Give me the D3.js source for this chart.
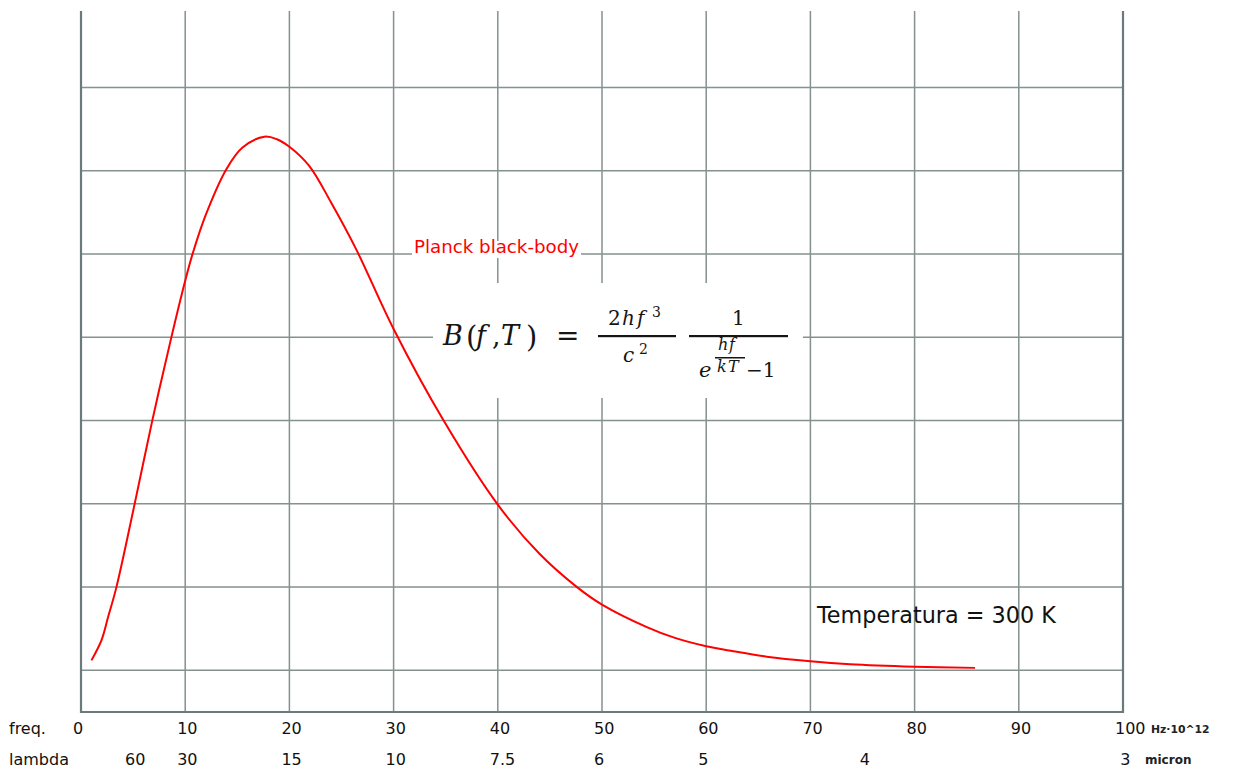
<!DOCTYPE html>
<html><head><meta charset="utf-8">
<script src="https://cdn.jsdelivr.net/npm/d3@7"></script>
<style>body{margin:0;background:#fff}svg{display:block}</style>
</head><body><svg id="c" width="1236" height="769"></svg>
<script>
// ---- data ----
const freqTicks = [0, 10, 20, 30, 40, 50, 60, 70, 80, 90, 100];
const freqTickLabels = ["0", "10", "20", "30", "40", "50", "60", "70", "80", "90", "100"];
const lambdaTickFreq = [5, 10, 20, 30, 40, 50, 60, 75.5, 100.5];
const lambdaTickLabels = ["60", "30", "15", "10", "7.5", "6", "5", "4", "3"];
const yGridValues = [0, 1, 2, 3, 4, 5, 6, 7];
const curveFreq = [1.0, 1.96, 2.6, 3.4, 5.15, 6.84, 8.67, 10.0, 10.75, 12.0, 13.95, 15.5, 17.6, 18.8, 20.0, 21.9, 24.0, 26.4, 30.0, 34.8, 40.0, 44.0, 47.6, 50.0, 54.3, 57.0, 60.0, 62.6, 65.8, 70.0, 73.8, 80.0, 85.8];
const curveValue = [0.12, 0.36, 0.64, 1.0, 2.0, 3.0, 4.0, 4.68, 5.02, 5.48, 6.02, 6.28, 6.41, 6.38, 6.29, 6.06, 5.62, 5.06, 4.1, 3.0, 1.99, 1.40, 1.0, 0.79, 0.52, 0.39, 0.29, 0.23, 0.165, 0.11, 0.075, 0.045, 0.03];
const curveTitle = "Planck black-body";
const tempLabel = "Temperatura = 300 K";

// ---- scales ----
const svg = d3.select("#c");
const x = d3.scaleLinear().domain([0, 100]).range([81, 1123]);
const y = d3.scaleLinear().domain([-0.5, 7.92]).range([712, 11]);
const gridColor = "#84918f", axisColor = "#6b7b7b";

// grid
svg.append("g").selectAll("line").data(freqTicks.slice(1, -1)).join("line")
  .attr("x1", d => x(d)).attr("x2", d => x(d)).attr("y1", y.range()[1]).attr("y2", y.range()[0])
  .attr("stroke", gridColor).attr("stroke-width", 1.5);
svg.append("g").selectAll("line").data(yGridValues).join("line")
  .attr("x1", x.range()[0]).attr("x2", x.range()[1]).attr("y1", d => y(d)).attr("y2", d => y(d))
  .attr("stroke", gridColor).attr("stroke-width", 1.5);
// axes frame (left, right, bottom)
const fr = svg.append("g").attr("stroke", axisColor).attr("stroke-width", 2.2).attr("fill", "none");
fr.append("path").attr("d", `M${x(0)},${y.range()[1]}V${y.range()[0]}H${x(100)}V${y.range()[1]}`);

// white boxes behind annotations
svg.append("rect").attr("x", 433).attr("y", 283).attr("width", 370).attr("height", 115).attr("fill", "#fff");
svg.append("rect").attr("x", 412).attr("y", 241).attr("width", 169).attr("height", 17).attr("fill", "#fff");

// curve
const pts = curveFreq.map((f, i) => [f, curveValue[i]]);
svg.append("path").datum(pts)
  .attr("d", d3.line().x(d => x(d[0])).y(d => y(d[1])).curve(d3.curveCatmullRom.alpha(0.5)))
  .attr("fill", "none").attr("stroke", "#ff0000").attr("stroke-width", 2);

// tick labels
const lab = svg.append("g").attr("font-family", "'DejaVu Sans', Verdana, sans-serif").attr("font-size", 16).attr("fill", "#111");
lab.append("text").attr("x", 9).attr("y", 734).text("freq.");
lab.append("text").attr("x", 9).attr("y", 765).text("lambda");
lab.selectAll("text.f").data(freqTicks).join("text").attr("class", "f")
  .attr("x", d => x(d) - 8).attr("y", 734).text((d, i) => freqTickLabels[i]);
lab.selectAll("text.l").data(lambdaTickFreq).join("text").attr("class", "l")
  .attr("x", d => x(d) - 8).attr("y", 765).text((d, i) => lambdaTickLabels[i]);
svg.append("text").attr("x", 1151).attr("y", 733).attr("font-family", "'DejaVu Sans', sans-serif")
  .attr("font-size", 10.8).attr("font-weight", "bold").attr("fill", "#222").text("Hz·10^12");
svg.append("text").attr("x", 1145).attr("y", 764).attr("font-family", "'DejaVu Sans', sans-serif")
  .attr("font-size", 12).attr("font-weight", "bold").attr("fill", "#222").text("micron");

// annotations
svg.append("text").attr("x", 414).attr("y", 253).attr("font-family", "'DejaVu Sans', Verdana, sans-serif")
  .attr("font-size", 17).attr("fill", "#ff0000").attr("textLength", 165).attr("lengthAdjust", "spacingAndGlyphs").text(curveTitle);
svg.append("text").attr("x", 817).attr("y", 623).attr("font-family", "'DejaVu Sans', Verdana, sans-serif")
  .attr("font-size", 22.3).attr("fill", "#111").text(tempLabel);

// formula
const fm = svg.append("g").attr("font-family", "'DejaVu Serif', 'Liberation Serif', serif").attr("fill", "#151515");
function g(t, px, py, size, it) {
  fm.append("text").attr("x", px).attr("y", py).attr("font-size", size)
    .attr("font-style", it ? "italic" : "normal").text(t);
}
g("B", 443, 345, 27, true);
g("(", 466, 347, 29, false);
g("f", 476, 345, 27, true);
g(",", 492, 345, 27, false);
g("T", 501, 345, 27, true);
g(")", 526, 347, 29, false);
g("=", 556, 345, 28, false);
fm.append("rect").attr("x", 598).attr("y", 335).attr("width", 78).attr("height", 2.2);
g("2", 608, 325, 20, false);
g("h", 622, 325, 20, true);
g("f", 637, 325, 20, true);
g("3", 652, 317, 14, false);
g("c", 623, 362, 20, true);
g("2", 639, 354, 14, false);
fm.append("rect").attr("x", 689).attr("y", 335).attr("width", 99).attr("height", 2.2);
g("1", 732, 325, 20, false);
g("e", 699, 377, 21, true);
g("h", 718, 350, 16, true);
g("f", 729, 350, 16, true);
fm.append("rect").attr("x", 715).attr("y", 357).attr("width", 30).attr("height", 1.5);
g("k", 717, 372, 16, true);
g("T", 728, 372, 16, true);
g("−1", 746, 377, 20, false);
</script></body></html>
